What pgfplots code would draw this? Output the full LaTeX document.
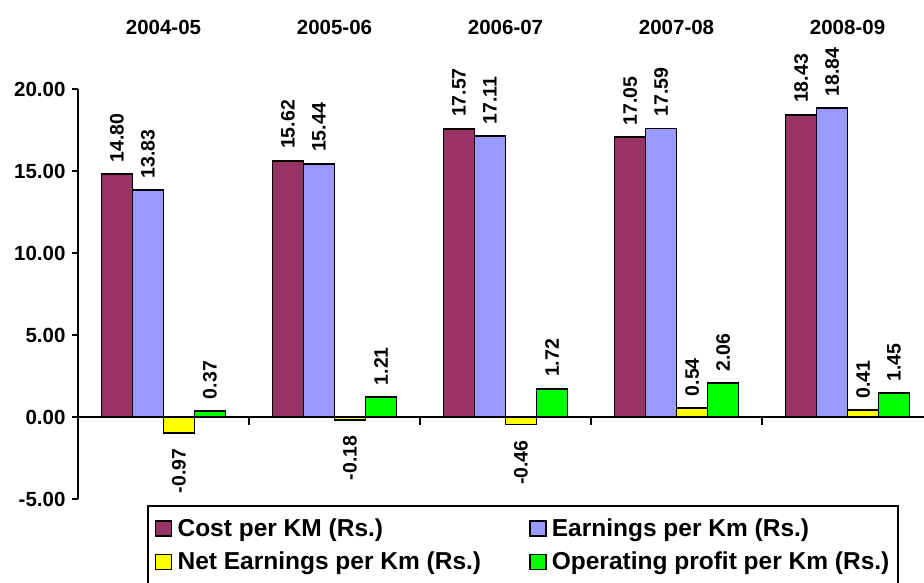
\documentclass[border=0pt]{standalone}
\usepackage{graphicx}
\usepackage{pgfplots}
\usepackage{pgfplotstable}
\pgfplotsset{compat=1.18}
\usepackage{fontspec}
\setmainfont{Liberation Sans}

\definecolor{cPurple}{HTML}{993366}
\definecolor{cBlue}{HTML}{9999FF}
\definecolor{cYellow}{HTML}{FFFF00}
\definecolor{cGreen}{HTML}{00FF00}

\pgfplotstableread{
x cost earn net op
0 14.80 13.83 -0.97 0.37
1 15.62 15.44 -0.18 1.21
2 17.57 17.11 -0.46 1.72
3 17.05 17.59 0.54 2.06
4 18.43 18.84 0.41 1.45
}\datatable

\begin{document}
\begin{tikzpicture}
\begin{axis}[
  at={(0pt,0pt)}, anchor=south west,
  scale only axis,
  width=846pt, height=410pt,
  xmin=-0.5, xmax=4.447,
  ymin=-5, ymax=20,
  clip=false,
  ybar=0pt, bar width=31pt,
  axis y line*=left,
  axis x line*=top,
  x axis line style={draw=none},
  y axis line style={-, line width=1.8pt},
  xtick={0,1,2,3,4},
  xticklabels={2004-05,2005-06,2006-07,2007-08,2008-09},
  xtick style={draw=none},
  xticklabel style={font=\fontsize{20.5}{20.5}\selectfont\bfseries, anchor=base, yshift=48pt},
  ytick={-5,0,5,10,15,20},
  ytick style={line width=1.8pt, black},
  tick align=outside,
  major tick length=6pt,
  yticklabel style={font=\fontsize{20.5}{20.5}\selectfont\bfseries, xshift=-3pt,
    /pgf/number format/.cd, fixed, fixed zerofill, precision=2, assume math mode=true},
  legend columns=2,
  legend style={at={(rel axis cs:0.0816,-0.0146)}, anchor=north west,
    draw=black, line width=1.8pt,
    font=\fontsize{24.5}{24.5}\selectfont\bfseries,
    nodes={inner sep=2pt},
    inner xsep=7pt, inner ysep=11pt, row sep=10pt,
    /tikz/every even column/.append style={column sep=46pt}},
  legend cell align=left,
  legend image code/.code={\draw[#1, draw=black, line width=1.5pt] (0pt,-7.5pt) rectangle (16pt,7.5pt); \path (19pt,0pt);},
  nodes near coords={\rotatebox{90}{\pgfmathprintnumber[fixed,fixed zerofill,precision=2,assume math mode=true]{\pgfplotspointmeta}\kern4pt}},
  every node near coord/.append style={font=\fontsize{19.5}{19.5}\selectfont\bfseries, inner ysep=11pt, inner xsep=0pt, text=black},
]
\addplot[fill=cPurple, draw=black, line width=1.8pt] table[x=x, y=cost] {\datatable};
\addplot[fill=cBlue, draw=black, line width=1.8pt] table[x=x, y=earn] {\datatable};
\addplot[fill=cYellow, draw=black, line width=1.8pt] table[x=x, y=net] {\datatable};
\addplot[fill=cGreen, draw=black, line width=1.8pt] table[x=x, y=op] {\datatable};
\legend{Cost per KM (Rs.), Earnings per Km (Rs.), Net Earnings per Km (Rs.), Operating profit per Km (Rs.)}
\draw[line width=1.8pt] (axis cs:-0.5,0) -- (axis cs:4.447,0);
\pgfplotsinvokeforeach{0.5,1.5,2.5,3.5}{\draw[line width=1.8pt] (axis cs:#1,0) -- ++(0pt,-8pt);}
\end{axis}
\pgfresetboundingbox
\useasboundingbox (-78pt,-84pt) rectangle (846pt,499pt);
\end{tikzpicture}
\end{document}
